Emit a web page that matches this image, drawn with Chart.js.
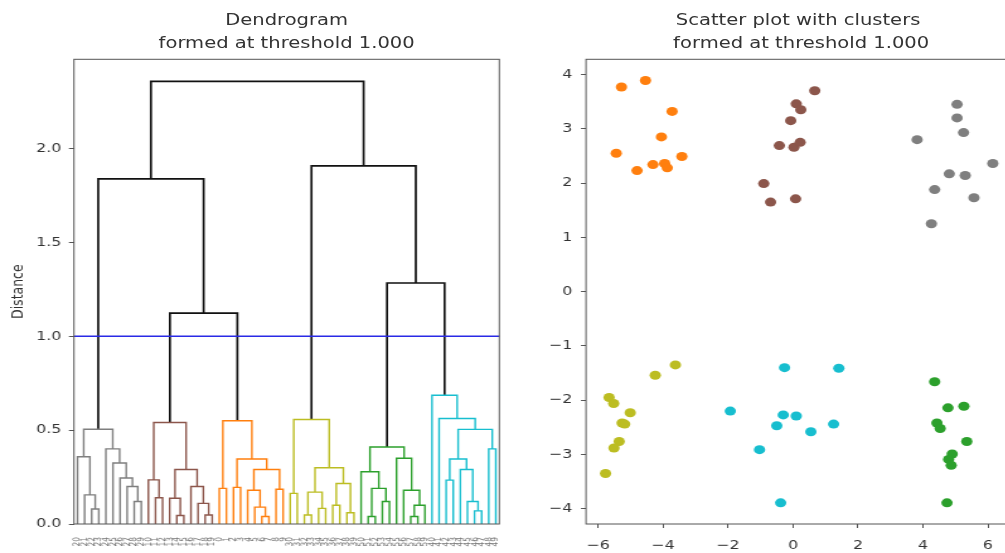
<!DOCTYPE html>
<html>
<head>
<meta charset="utf-8">
<script src="https://cdn.jsdelivr.net/npm/chart.js@4.4.0/dist/chart.umd.min.js"></script>
<style>
  html, body { margin: 0; padding: 0; background: #fff; overflow: hidden; }
  body { width: 1005px; height: 553px; position: relative; }
  /* the reference is horizontally stretched, so the whole figure is drawn narrow and widened */
  #stage { position: absolute; left: 0; top: 0; width: 798px; height: 553px;
           transform: scaleX(1.26); transform-origin: 0 0; }
  .box { position: absolute; top: 0; height: 553px; }
  .title { position: absolute; top: 9px; width: 400px; text-align: center; white-space: pre;
           font-family: "DejaVu Sans", sans-serif; font-size: 15.5px; line-height: 22.5px; color: #333; }
</style>
</head>
<body>
<div id="stage">
  <div class="title" style="left:27.5px">Dendrogram
formed at threshold 1.000</div>
  <div class="title" style="left:433.4px">Scatter plot with clusters
 formed at threshold 1.000</div>
  <div class="box" style="left:0; width:420px"><canvas id="dendroChart"></canvas></div>
  <div class="box" style="left:420px; width:400px"><canvas id="scatterChart"></canvas></div>
</div>
<script>
// ---- data ----
const threshold = 1.0;

// dendrogram subtrees: [left, right, mergeHeight], leaves are point ids
const grayTree   = [[20, [21, [22, 23, 0.08], 0.155], 0.358], [24, [25, [26, [27, [28, 29, 0.12], 0.2], 0.245], 0.325], 0.4], 0.505];
const brownTree  = [[10, [11, 12, 0.14], 0.235], [[13, [14, 15, 0.045], 0.137], [16, [17, [18, 19, 0.048], 0.11], 0.2], 0.29], 0.541];
const orangeTree = [[0, 1, 0.19], [[2, 3, 0.195], [[4, [5, [6, 7, 0.04], 0.09], 0.18], [8, 9, 0.185], 0.29], 0.346], 0.55];
const oliveTree  = [[30, 31, 0.163], [[[32, 33, 0.048], [34, 35, 0.083], 0.17], [[36, 37, 0.1], [38, 39, 0.06], 0.216], 0.3], 0.557];
const greenTree  = [[50, [[51, 52, 0.04], [53, 54, 0.12], 0.19], 0.278], [55, [56, [[57, 58, 0.04], 59, 0.1], 0.18], 0.35], 0.41];
const cyanTree   = [40, [41, [[[42, 43, 0.234], [44, [45, [46, 47, 0.07], 0.12], 0.29], 0.346], [48, 49, 0.4], 0.504], 0.562], 0.686];
const upperTree  = [[grayTree, [brownTree, orangeTree, 1.124], 1.839], [oliveTree, [greenTree, cyanTree, 1.284], 1.908], 2.358];

const clusterTrees  = [grayTree, brownTree, orangeTree, oliveTree, greenTree, cyanTree];
const clusterColors = ['#7f7f7f', '#8c564b', '#ff7f0e', '#bcbd22', '#2ca02c', '#17becf'];

const distanceTicks = [0, 0.5, 1.0, 1.5, 2.0];

// scatter clusters
const orangeX = [-5.28, -4.54, -3.72, -4.05, -5.44, -4.80, -4.31, -3.95, -3.87, -3.42];
const orangeY = [3.77, 3.89, 3.32, 2.85, 2.55, 2.23, 2.34, 2.36, 2.28, 2.49];
const brownX  = [0.67, 0.10, 0.24, -0.07, -0.42, 0.03, 0.22, -0.90, -0.69, 0.08];
const brownY  = [3.70, 3.46, 3.35, 3.15, 2.69, 2.66, 2.75, 1.99, 1.65, 1.71];
const grayX   = [5.05, 5.05, 5.25, 3.82, 6.15, 4.81, 5.30, 4.36, 5.57, 4.26];
const grayY   = [3.45, 3.20, 2.93, 2.80, 2.36, 2.17, 2.14, 1.88, 1.73, 1.25];
const oliveX  = [-3.62, -4.24, -5.66, -5.52, -5.01, -5.26, -5.18, -5.35, -5.51, -5.77];
const oliveY  = [-1.35, -1.54, -1.95, -2.06, -2.23, -2.42, -2.44, -2.76, -2.88, -3.35];
const cyanX   = [-0.26, 1.41, -1.93, -0.30, 0.10, -0.50, 1.25, 0.55, -1.03, -0.38];
const cyanY   = [-1.40, -1.41, -2.20, -2.27, -2.29, -2.47, -2.44, -2.58, -2.91, -3.89];
const greenX  = [4.36, 4.77, 5.26, 4.43, 4.53, 5.35, 4.90, 4.79, 4.87, 4.74];
const greenY  = [-1.66, -2.14, -2.11, -2.42, -2.52, -2.76, -2.99, -3.09, -3.20, -3.89];

const xTicks = [-6, -4, -2, 0, 2, 4, 6];
const yTicks = [-4, -3, -2, -1, 0, 1, 2, 3, 4];

// ---- shared styling ----
const FONT = "DejaVu Sans";
const TEXT = '#333';
const FRAME = '#555';

// draws the four-sided axes box like matplotlib
const frameBox = {
  id: 'frameBox',
  afterDraw(chart) {
    const a = chart.chartArea, ctx = chart.ctx;
    ctx.save();
    ctx.strokeStyle = FRAME;
    ctx.lineWidth = 1;
    ctx.strokeRect(a.left, a.top, a.right - a.left, a.bottom - a.top);
    ctx.restore();
  }
};

function minusSign(v) {
  return v < 0 ? '\u2212' + Math.abs(v) : String(v);
}

// ---- dendrogram: walk the tree, leaves at 5, 15, 25 ... like scipy ----
const links = [];
const leafIds = [];

function walk(node, color) {
  const idx = clusterTrees.indexOf(node);
  if (idx >= 0) color = clusterColors[idx];
  if (typeof node === 'number') {
    const x = 5 + 10 * leafIds.length;
    leafIds.push(node);
    return { x: x, h: 0 };
  }
  const a = walk(node[0], color);
  const b = walk(node[1], color);
  const h = node[2];
  links.push({
    color: color,
    pts: [{ x: a.x, y: a.h }, { x: a.x, y: h }, { x: b.x, y: h }, { x: b.x, y: b.h }]
  });
  return { x: (a.x + b.x) / 2, h: h };
}
walk(upperTree, '#111');

const leafPositions = leafIds.map((id, i) => 5 + 10 * i);
const topHeight = upperTree[2];

const dendroSets = links.map(l => ({
  data: l.pts,
  showLine: true,
  borderColor: l.color,
  borderWidth: l.color === '#111' ? 1.7 : 1.4,
  pointRadius: 0,
  order: 1
}));
dendroSets.push({
  data: [{ x: 0, y: threshold }, { x: leafIds.length * 10, y: threshold }],
  showLine: true,
  borderColor: '#2a2ae6',
  borderWidth: 1.6,
  pointRadius: 0,
  order: 0
});

new Chart(document.getElementById('dendroChart'), {
  type: 'scatter',
  data: { datasets: dendroSets },
  options: {
    responsive: true,
    maintainAspectRatio: false,
    animation: false,
    layout: { padding: { top: 59.3, right: 23.7, left: 0, bottom: 0 } },
    plugins: { legend: { display: false }, tooltip: { enabled: false } },
    scales: {
      x: {
        type: 'linear',
        min: 0,
        max: leafIds.length * 10,
        afterFit: s => { s.height = 29; },
        afterBuildTicks: s => { s.ticks = leafPositions.map(v => ({ value: v })); },
        grid: { drawOnChartArea: false, drawTicks: false },
        border: { display: false },
        ticks: {
          autoSkip: false,
          minRotation: 90,
          maxRotation: 90,
          padding: 13,
          color: '#777',
          font: { family: FONT, size: 7.5 },
          callback: (v, i) => String(leafIds[i])
        }
      },
      y: {
        type: 'linear',
        min: 0,
        max: topHeight * 1.05,
        afterFit: s => { s.width = 58.7; },
        afterBuildTicks: s => { s.ticks = distanceTicks.map(v => ({ value: v })); },
        grid: { drawOnChartArea: false, color: FRAME, tickLength: 4 },
        border: { display: false },
        ticks: {
          padding: 6,
          color: TEXT,
          font: { family: FONT, size: 12.5 },
          callback: v => v.toFixed(1)
        },
        title: {
          display: true,
          text: 'Distance',
          color: TEXT,
          padding: { top: 7.5, bottom: 0 },
          font: { family: FONT, size: 12.5 }
        }
      }
    }
  },
  plugins: [frameBox]
});

// ---- scatter ----
function pts(xs, ys) {
  return xs.map((x, i) => ({ x: x, y: ys[i] }));
}
const scatterSets = [
  [orangeX, orangeY, '#ff7f0e'],
  [brownX, brownY, '#8c564b'],
  [grayX, grayY, '#7f7f7f'],
  [oliveX, oliveY, '#bcbd22'],
  [cyanX, cyanY, '#17becf'],
  [greenX, greenY, '#2ca02c']
].map(([xs, ys, c]) => ({
  data: pts(xs, ys),
  backgroundColor: c,
  borderColor: c,
  borderWidth: 0,
  pointRadius: 4.5
}));

new Chart(document.getElementById('scatterChart'), {
  type: 'scatter',
  data: { datasets: scatterSets },
  options: {
    responsive: true,
    maintainAspectRatio: false,
    animation: false,
    layout: { padding: { top: 59.3, right: 18.4, left: 0, bottom: 0 } },
    plugins: { legend: { display: false }, tooltip: { enabled: false } },
    scales: {
      x: {
        type: 'linear',
        min: -6.37,
        max: 6.68,
        afterFit: s => { s.height = 29; },
        afterBuildTicks: s => { s.ticks = xTicks.map(v => ({ value: v })); },
        grid: { drawOnChartArea: false, color: FRAME, tickLength: 4 },
        border: { display: false },
        ticks: {
          padding: 10,
          color: TEXT,
          font: { family: FONT, size: 12.5 },
          callback: v => minusSign(v)
        }
      },
      y: {
        type: 'linear',
        min: -4.28,
        max: 4.28,
        afterFit: s => { s.width = 45.1; },
        afterBuildTicks: s => { s.ticks = yTicks.map(v => ({ value: v })); },
        grid: { drawOnChartArea: false, color: FRAME, tickLength: 4 },
        border: { display: false },
        ticks: {
          padding: 7,
          color: TEXT,
          font: { family: FONT, size: 12.5 },
          callback: v => minusSign(v)
        }
      }
    }
  },
  plugins: [frameBox]
});
</script>
</body>
</html>
